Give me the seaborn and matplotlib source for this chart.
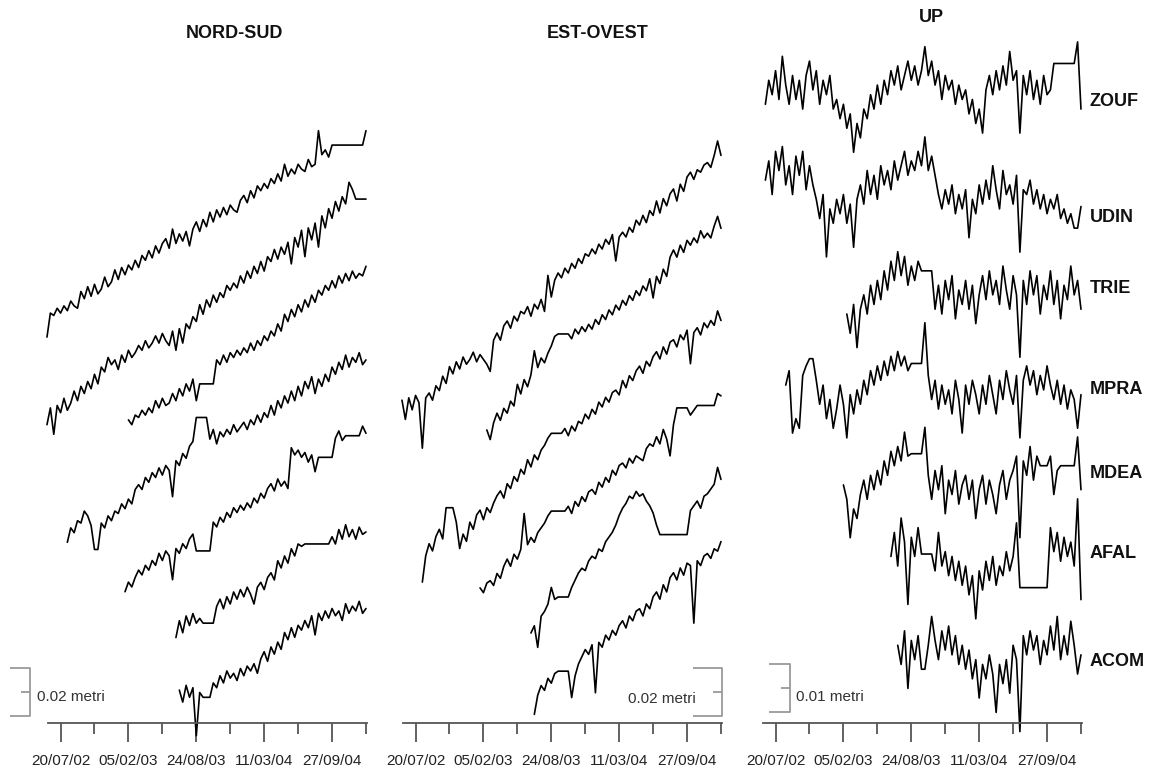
import numpy as np
import pandas as pd
import seaborn as sns
from matplotlib import pyplot as plt

STATIONS = ["ZOUF", "UDIN", "TRIE", "MPRA", "MDEA", "AFAL", "ACOM"]
DATE_LABELS = ["20/07/02", "05/02/03", "24/08/03", "11/03/04", "27/09/04"]
MAJOR_DAYS = [0, 200, 400, 600, 800]
MINOR_DAYS = [100, 300, 500, 700, 900]
STEP = 10  # days between samples, day 0 = 20/07/02

# NORD-SUD, mm
ns_zouf = [-8, 2, 1, 4, 2, 5, 3, 7, 5, 4, 11, 8, 13, 9, 14, 10, 12, 17, 13, 15,
           20, 16, 21, 18, 22, 20, 24, 21, 26, 24, 28, 25, 30, 27, 31, 33, 29, 37, 31, 35,
           32, 36, 30, 37, 40, 36, 41, 38, 44, 40, 45, 42, 46, 43, 47, 45, 44, 49, 51, 48,
           53, 50, 55, 53, 56, 54, 58, 56, 60, 57, 64, 59, 62, 60, 64, 62, 61, 66, 63, 64,
           78, 68, 70, 67, 72, 72, 72, 72, 72, 72, 72, 72, 72, 72, 78]
ns_udin = [-4, 3, -8, 4, 1, 7, 2, 5, 10, 6, 12, 9, 14, 11, 17, 13, 20, 18, 24, 21,
           23, 19, 25, 22, 27, 24, 26, 29, 27, 31, 28, 30, 33, 30, 34, 31, 29, 35, 27, 36,
           30, 38, 36, 41, 39, 46, 42, 48, 45, 50, 47, 51, 49, 54, 52, 55, 53, 58, 55, 60,
           57, 62, 59, 64, 60, 66, 64, 69, 65, 70, 67, 72, 63, 74, 70, 77, 66, 78, 73, 80,
           70, 83, 78, 86, 82, 89, 85, 91, 88, 97, 94, 90, 90, 90, 90]
ns_trie = [0, -2, 2, 1, 4, 2, 5, 3, 8, 5, 9, 6, 7, 11, 8, 13, 10, 15, 12, 17,
           8, 15, 15, 15, 15, 15, 25, 23, 27, 24, 28, 26, 29, 27, 30, 28, 32, 29, 33, 31,
           35, 33, 37, 35, 40, 37, 44, 41, 46, 43, 48, 45, 50, 47, 52, 49, 54, 52, 56, 54,
           58, 55, 60, 57, 61, 58, 62, 59, 61, 60, 64]
ns_mpra = [-3, 3, 1, 6, 5, 10, 8, 4, -6, -6, 5, 3, 8, 6, 10, 9, 13, 11, 15, 13,
           19, 21, 19, 24, 22, 26, 24, 28, 25, 29, 27, 16, 31, 29, 34, 32, 37, 39, 49, 49,
           49, 49, 40, 44, 38, 43, 41, 44, 42, 46, 43, 45, 47, 44, 48, 46, 50, 47, 51, 49,
           54, 50, 56, 53, 58, 55, 60, 56, 62, 58, 64, 61, 66, 59, 65, 62, 67, 64, 70, 67,
           72, 69, 75, 70, 74, 72, 76, 71, 73]
ns_mdea = [-2, 2, 0, 4, 7, 5, 9, 7, 11, 9, 14, 11, 15, 13, 3, 16, 14, 18, 16, 20,
           22, 15, 15, 15, 15, 15, 27, 25, 29, 27, 31, 29, 33, 31, 34, 32, 35, 33, 37, 35,
           39, 37, 41, 43, 40, 45, 42, 44, 41, 58, 55, 57, 54, 56, 52, 55, 48, 54, 54, 54,
           54, 54, 62, 65, 61, 63, 63, 63, 63, 63, 67, 64]
ns_afal = [-4, 3, -2, 5, 1, 6, 2, 4, 2, 2, 2, 2, 9, 12, 8, 13, 10, 15, 12, 16,
           13, 17, 14, 10, 17, 19, 16, 21, 23, 20, 28, 25, 30, 27, 33, 30, 35, 34, 35, 35,
           35, 35, 35, 35, 35, 35, 38, 35, 41, 37, 43, 38, 41, 37, 42, 39, 40]
ns_acom = [2, -3, 4, -1, 3, -17, 1, -1, -1, -1, 5, 3, 8, 5, 10, 7, 9, 6, 11, 8,
           12, 10, 13, 9, 15, 18, 14, 20, 17, 22, 19, 26, 23, 28, 24, 29, 27, 31, 28, 33,
           25, 34, 31, 35, 32, 36, 33, 35, 31, 38, 34, 37, 35, 39, 34, 36]
NS_START = [-40, -40, 200, 20, 190, 340, 350]
NS_OFFSET = [168.8, 128.3, 126.3, 78.3, 56.7, 39.6, 11.7]

# EST-OVEST, mm (no UDIN trace is drawn in this panel)
ew_zouf = [2, -6, 3, -2, 4, 1, -18, 3, 5, 2, 8, 6, 12, 9, 16, 13, 18, 15, 20, 17,
           19, 22, 18, 21, 19, 17, 14, 27, 30, 27, 33, 35, 32, 37, 35, 39, 38, 41, 37, 42,
           40, 44, 39, 54, 45, 52, 55, 53, 57, 55, 59, 57, 61, 59, 63, 62, 65, 63, 67, 65,
           69, 67, 71, 60, 70, 72, 70, 74, 72, 77, 75, 79, 76, 81, 79, 85, 80, 86, 83, 88,
           90, 85, 92, 89, 95, 97, 94, 98, 97, 100, 101, 99, 104, 110, 104]
ew_udin = None
ew_trie = [0, -4, 3, 7, 4, 9, 7, 12, 10, 19, 15, 21, 18, 23, 33, 26, 30, 28, 32, 35,
           39, 40, 40, 40, 40, 38, 42, 40, 43, 41, 44, 42, 46, 44, 48, 46, 50, 48, 52, 50,
           54, 52, 56, 54, 58, 56, 60, 58, 63, 55, 64, 61, 67, 64, 72, 75, 72, 77, 74, 79,
           77, 80, 78, 83, 80, 82, 80, 85, 89, 84]
ew_mpra = [-8, 3, 8, 5, 11, 14, 10, 23, 23, 23, 17, 6, 12, 9, 17, 14, 20, 22, 18, 23,
           21, 25, 28, 30, 27, 33, 31, 36, 34, 39, 37, 43, 40, 45, 43, 47, 49, 52, 54, 54,
           54, 54, 56, 53, 57, 55, 59, 58, 62, 60, 64, 62, 67, 65, 69, 67, 71, 72, 70, 76,
           73, 78, 76, 80, 82, 79, 84, 82, 86, 88, 85, 90, 87, 92, 93, 90, 95, 93, 97, 83,
           96, 98, 95, 100, 98, 101, 99, 105, 101]
ew_mdea = [0, -2, 2, 3, 1, 6, 4, 9, 12, 9, 14, 12, 16, 31, 18, 21, 19, 23, 25, 27,
           30, 32, 32, 32, 32, 32, 34, 31, 36, 34, 38, 36, 40, 41, 39, 44, 42, 46, 44, 49,
           47, 51, 52, 50, 54, 52, 55, 54, 53, 58, 60, 59, 63, 60, 66, 62, 55, 68, 75, 75,
           75, 75, 72, 74, 76, 76, 76, 76, 76, 76, 81, 80]
ew_afal = [0, 3, -6, 7, 9, 12, 19, 14, 15, 15, 15, 15, 19, 22, 25, 27, 26, 30, 32, 31,
           35, 34, 38, 40, 42, 45, 49, 52, 54, 57, 56, 59, 57, 58, 55, 53, 50, 45, 41, 41,
           41, 41, 41, 41, 41, 41, 41, 51, 53, 55, 52, 57, 58, 60, 62, 69, 64]
ew_acom = [-6, 2, 6, 4, 9, 7, 11, 12, 12, 12, 12, 1, 10, 15, 18, 21, 19, 23, 3, 24,
           22, 27, 25, 29, 27, 31, 33, 30, 35, 33, 37, 38, 35, 40, 38, 43, 45, 42, 48, 45,
           51, 53, 50, 55, 52, 57, 56, 32, 58, 56, 60, 61, 59, 63, 62, 66]
EW_START = [-40, -40, 210, 20, 190, 340, 350]
EW_OFFSET = [132.5, 132.5, 122.1, 66.7, 56.3, 37.5, 9.6]

# UP, mm
up_zouf = [-3, 2, -1, 4, -2, 7, 1, -3, 3, -2, 2, -4, 3, 6, 0, 4, -3, 2, -1, 3,
           -4, -2, -6, -3, -8, -5, -13, -7, -10, -4, -6, -1, -4, 1, -3, 2, -1, 4, 1, 5,
           0, 3, 6, 2, 5, 1, 4, 9, 3, 6, 1, 4, -2, 3, 0, 2, -3, 1, -2, 0,
           -5, -2, -7, -4, -9, 0, 3, -1, 4, 0, 5, 1, 8, 2, 4, -9, 3, -1, 4, -2,
           2, -3, 3, -1, 0, 5.5, 5.5, 5.5, 5.5, 5.5, 5.5, 5.5, 10, -4]
up_udin = [0, 4, -3, 6, 2, 7, -1, 3, -3, 5, 1, 6, -2, 3, -1, -4, -8, -3, -16, -6,
           -9, -4, -7, -3, -9, -5, -14, -4, -1, -5, 2, -3, 1, -4, 3, -1, 2, -2, 4, 0,
           3, 6, 1, 4, 2, 6, 3, 9, 2, 5, 1, -3, -6, -2, -5, -1, -7, -3, -6, -2,
           -12, -4, -7, -1, -5, 0, -4, 3, -2, -6, 2, -3, -1, -5, 1, -15, -2, -3, 0, -5,
           -2, -6, -3, -7, -4, -6, -3, -8, -6, -9, -7, -10, -10, -5.5]
up_trie = [-5, -9, -3, -12, -4, -1, -5, 1, -3, 2, -2, 4, 0, 6, 2, 8, 3, 7, 1, 5,
           2, 6, 4, 4, 4, 4, -4, 1, -5, 2, -2, 3, -6, 0, -3, 2, -4, 1, -7, -1,
           3, -2, 4, -1, 2, -3, 5, 0, -4, 3, -1, -14, 2, -3, 4, -1, 3, -5, 1, -2,
           4, -3, 2, -6, 1, -2, 5, -1, 2, -4]
up_mpra = [1, 4, -9, -6, -8, 3, 5, 6.5, 6.5, 2, -3, 1, -6, -2, -8, -4, 1, -3, -10, -1,
           -5, 0, -3, 2, -1, 4, 1, 5, 2, 6, 3, 7, 4, 8, 5, 7, 4, 5.5, 5.5, 5.5,
           5.5, 14, 3, -2, 2, -4, 1, -3, 0, -5, 2, -2, -9, 1, -3, 2, -1, -5, 1, -3,
           3, -1, -5, 2, -2, 4, 0, -3, 3, -10, 2, 5, 1, 4, -1, 3, 0, 5, 1, -2,
           2, -3, 1, -4, 0, -2, -8, -1]
up_mdea = [0, -3, -11, -5, -7, -2, 1, -3, 2, -1, 3, 0, 5, 2, 7, 4, 8, 5, 11, 6,
           6.5, 6.5, 6.5, 6.5, 12, 2, -3, 3, -1, 4, -6, 1, -2, 3, -4, 0, 2, -3, 1, -7,
           -1, 2, -4, 1, -2, -6, 0, 3, -3, 1, 3, 6, -11, 5, 2, 8, 1, 6, 4, 4,
           4, 6, -2, 3, 4, 4, 4, 4, 4, 10, -1]
up_afal = [-2, 3, -4, 6, 1, -12, 2, -2, 4, -1.5, -1.5, -1.5, -1.5, -5, 3, -4, -1, -6, -2, -7,
           -3, -8, -4, -10, -6, -15, -5, -9, -3, -7, -2, -8, -4, -6, -1, -5, -2, 5, -8.5, -8.5,
           -8.5, -8.5, -8.5, -8.5, -8.5, -8.5, -8.5, 4, -1, 3, -3, 2, -2, 1, -4, 10, -11]
up_acom = [1, -3, 4, -8, 2, -2, 3, -4, -4, 1, 7, 2, -2, 4, 0, 5, -1, 3, -3, 1,
           -4, 0, -6, -2, -10, -3, -6, -1, -5, -13, -3, -7, -2, -9, 1, -2, -17, 3, -1, 4,
           0, 3, -3, 2, -1, 5, 0, 7, -2, 3, -1, 6, 1, -5, -1]
UP_START = [-30, -30, 210, 30, 200, 340, 360]
UP_OFFSET = [131.9, 113.1, 90.2, 69.4, 49.6, 36.7, 15.2]


def to_frame(series, starts, offsets):
    rows = []
    for name, vals, start, off in zip(STATIONS, series, starts, offsets):
        if vals is None:
            continue
        for k, v in enumerate(vals):
            rows.append({"station": name, "day": start + STEP * k, "mm": v + off})
    return pd.DataFrame(rows)


def scale_bar(ax, x0, x1, xm, y0, y1, label, tx, ty, ha):
    col = "#9a9a9a"
    ym = (y0 + y1) / 2
    kw = dict(color=col, lw=1.3, clip_on=False, solid_capstyle="butt")
    ax.plot([x0, x1, x1, x0], [y1, y1, y0, y0], **kw)
    ax.plot([xm, x1], [ym, ym], **kw)
    ax.text(tx, ty, label, ha=ha, va="center", fontsize=11, color="#333333")


def main() -> None:
    sns.set_theme(style="white")
    plt.rcParams["font.family"] = ["Liberation Sans", "DejaVu Sans"]

    W, H = 1152, 770
    fig = plt.figure(figsize=(W / 100, H / 100), dpi=100)
    base = 723  # pixel row of the time axis

    panels = [
        (48, to_frame([ns_zouf, ns_udin, ns_trie, ns_mpra, ns_mdea, ns_afal, ns_acom],
                      NS_START, NS_OFFSET), 2.4),
        (403, to_frame([ew_zouf, ew_udin, ew_trie, ew_mpra, ew_mdea, ew_afal, ew_acom],
                       EW_START, EW_OFFSET), 2.4),
        (763, to_frame([up_zouf, up_udin, up_trie, up_mpra, up_mdea, up_afal, up_acom],
                       UP_START, UP_OFFSET), 4.8),
    ]
    axes = []
    for left, df, px_per_mm in panels:
        ax = fig.add_axes([left / W, (H - base) / H, 319 / W, base / H])
        sns.lineplot(data=df, x="day", y="mm", units="station", estimator=None,
                     color="black", linewidth=1.2, legend=False, ax=ax)
        for ln in ax.lines:
            ln.set_clip_on(False)
        ax.set_xlim(-37, 903)
        ax.set_ylim(0, base / px_per_mm)
        ax.set_xlabel("")
        ax.set_ylabel("")
        ax.set_yticks([])
        ax.set_xticks(MAJOR_DAYS)
        ax.set_xticklabels(DATE_LABELS)
        ax.set_xticks(MINOR_DAYS, minor=True)
        for side in ["top", "left", "right"]:
            ax.spines[side].set_visible(False)
        ax.spines["bottom"].set_color("#555555")
        ax.spines["bottom"].set_linewidth(1.3)
        ax.tick_params(axis="x", which="both", bottom=True, direction="out",
                       width=1.3, color="#555555")
        ax.tick_params(axis="x", which="major", length=14, pad=8,
                       labelsize=11, labelcolor="#222222")
        ax.tick_params(axis="x", which="minor", length=8)
        ax.patch.set_alpha(0)
        axes.append(ax)

    scale_bar(axes[0], -150, -91, -118, 2.9, 22.9, "0.02 metri", -70, 10.8, "left")
    scale_bar(axes[1], 818, 903, 877, 2.9, 22.9, "0.02 metri", 826, 10, "right")
    scale_bar(axes[2], -18, 44, 15, 2.3, 12.3, "0.01 metri", 59, 5.4, "left")

    for text, x, y in [("NORD-SUD", 234, 33), ("EST-OVEST", 598, 33), ("UP", 931, 18)]:
        fig.text(x / W, 1 - y / H, text, ha="center", va="center",
                 fontsize=13, fontweight="bold", color="#111111")
    for name, y in zip(STATIONS, [102, 217, 289, 390, 473, 553, 662]):
        fig.text(1090 / W, 1 - y / H, name, ha="left", va="center",
                 fontsize=13, fontweight="bold", color="#111111")

    fig.savefig("out.png", dpi=100)
    plt.close(fig)


if __name__ == "__main__":
    main()
